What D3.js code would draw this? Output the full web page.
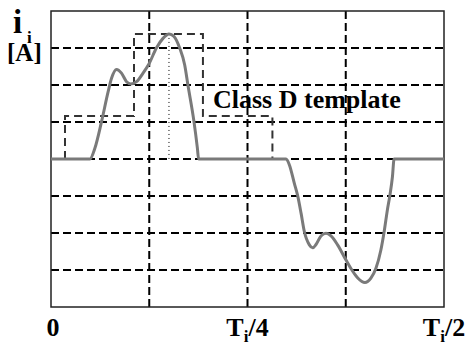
<!DOCTYPE html>
<html>
<head>
<meta charset="utf-8">
<script src="https://cdn.jsdelivr.net/npm/d3@7"></script>
<style>
  html, body { margin: 0; padding: 0; background: #fff; }
  svg { display: block; }
</style>
</head>
<body>
<svg id="chart" width="467" height="345"></svg>
<script>
// ---- data (time in fractions of Ti, current in grid units) ----
const posT = [0, 0.0495, 0.0558, 0.0643, 0.0727, 0.0770, 0.0834, 0.0897, 0.0961, 0.1015, 0.1088, 0.1171, 0.1244, 0.1341, 0.1425, 0.1501, 0.1565, 0.1637, 0.1701, 0.1742, 0.1819, 0.1862, 0.1878];
const posI = [0, 0, 0.29, 1.01, 1.82, 2.18, 2.42, 2.32, 2.09, 2.03, 2.09, 2.32, 2.56, 3.0, 3.26, 3.38, 3.31, 3.0, 2.54, 2.0, 1.01, 0.30, 0];
const negT = [0.2991, 0.3033, 0.3096, 0.3138, 0.3182, 0.3223, 0.3287, 0.3329, 0.3372, 0.3435, 0.3499, 0.3562, 0.3646, 0.3753, 0.3816, 0.3900, 0.3994, 0.4070, 0.4133, 0.4197, 0.4239, 0.4280, 0.4311, 0.4344, 0.4365, 0.5];
const negI = [0, -0.16, -0.66, -0.99, -1.47, -1.96, -2.32, -2.40, -2.31, -2.08, -2.01, -2.08, -2.32, -2.73, -2.96, -3.21, -3.34, -3.22, -2.96, -2.46, -1.96, -1.37, -0.99, -0.48, 0, 0];
const templateT = [0.0178, 0.1056, 0.1933, 0.2817];
const templateI = [1.16, 3.38, 1.16];
const peakT = 0.1501, peakI = 3.38;
const gridT = [0.125, 0.25, 0.375];
const gridI = [-3, -2, -1, 0, 1, 2, 3];
const tickT = [0, 0.25, 0.5];
const tickLabels = [["0"], ["T", "i", "/4"], ["T", "i", "/2"]];
const templateLabel = "Class D template";

const FONT = "'Liberation Serif', Tinos, 'Times New Roman', 'DejaVu Serif', serif";

// ---- layout ----
const svg = d3.select("#chart");
const x = d3.scaleLinear().domain([0, 0.5]).range([51, 444]);
const y = d3.scaleLinear().domain([-4, 4]).range([307, 11]);

// grid
const g = svg.append("g");
g.selectAll("line.h").data(gridI).join("line")
  .attr("x1", x(0)).attr("x2", x(0.5))
  .attr("y1", d => y(d)).attr("y2", d => y(d))
  .attr("stroke", "#000").attr("stroke-width", 2).attr("stroke-dasharray", "8,4");
g.selectAll("line.v").data(gridT).join("line")
  .attr("x1", d => x(d)).attr("x2", d => x(d))
  .attr("y1", y(4)).attr("y2", y(-4))
  .attr("stroke", "#000").attr("stroke-width", 2).attr("stroke-dasharray", "8,4");

// template
const tpl = [[templateT[0], 0]];
templateI.forEach((v, i) => { tpl.push([templateT[i], v]); tpl.push([templateT[i + 1], v]); });
tpl.push([templateT[3], 0]);
svg.append("path")
  .attr("d", d3.line().x(d => x(d[0])).y(d => y(d[1]))(tpl))
  .attr("fill", "none").attr("stroke", "#333").attr("stroke-width", 2).attr("stroke-dasharray", "8,5");

// dotted peak marker
svg.append("line")
  .attr("x1", x(peakT)).attr("x2", x(peakT)).attr("y1", y(peakI)).attr("y2", y(0))
  .attr("stroke", "#000").attr("stroke-width", 1).attr("stroke-dasharray", "1,3");

// frame
svg.append("rect").attr("x", x(0)).attr("y", y(4)).attr("width", x(0.5) - x(0)).attr("height", y(-4) - y(4))
  .attr("fill", "none").attr("stroke", "#222").attr("stroke-width", 1.5);

// current waveform
const line = d3.line().x(d => x(d[0])).y(d => y(d[1])).curve(d3.curveMonotoneX);
const wave = posT.map((t, i) => [t, posI[i]]).concat(negT.map((t, i) => [t, negI[i]]));
svg.append("path").attr("d", line(wave))
  .attr("fill", "none").attr("stroke", "#7a7a7a").attr("stroke-width", 3);

function txt(xp, yp, size) {
  return svg.append("text").attr("x", xp).attr("y", yp)
    .attr("font-family", FONT).attr("font-weight", "bold").attr("font-size", size).attr("fill", "#000");
}

// x tick labels
tickT.forEach((t, k) => {
  const parts = tickLabels[k];
  const tx = txt(x(t) + (k === 0 ? 2 : 0), 336, 26).attr("text-anchor", "middle");
  if (parts.length === 1) { tx.text(parts[0]); }
  else {
    tx.append("tspan").text(parts[0]);
    tx.append("tspan").text(parts[1]).attr("dy", 6).attr("font-size", 17);
    tx.append("tspan").text(parts[2]).attr("dy", -6);
  }
});

// y label
txt(13, 33, 33).text("i");
txt(27, 43, 17).text("i");
txt(7, 61, 25).text("[A]");

// template label
txt(213, 108, 26).text(templateLabel);
</script>
</body>
</html>
